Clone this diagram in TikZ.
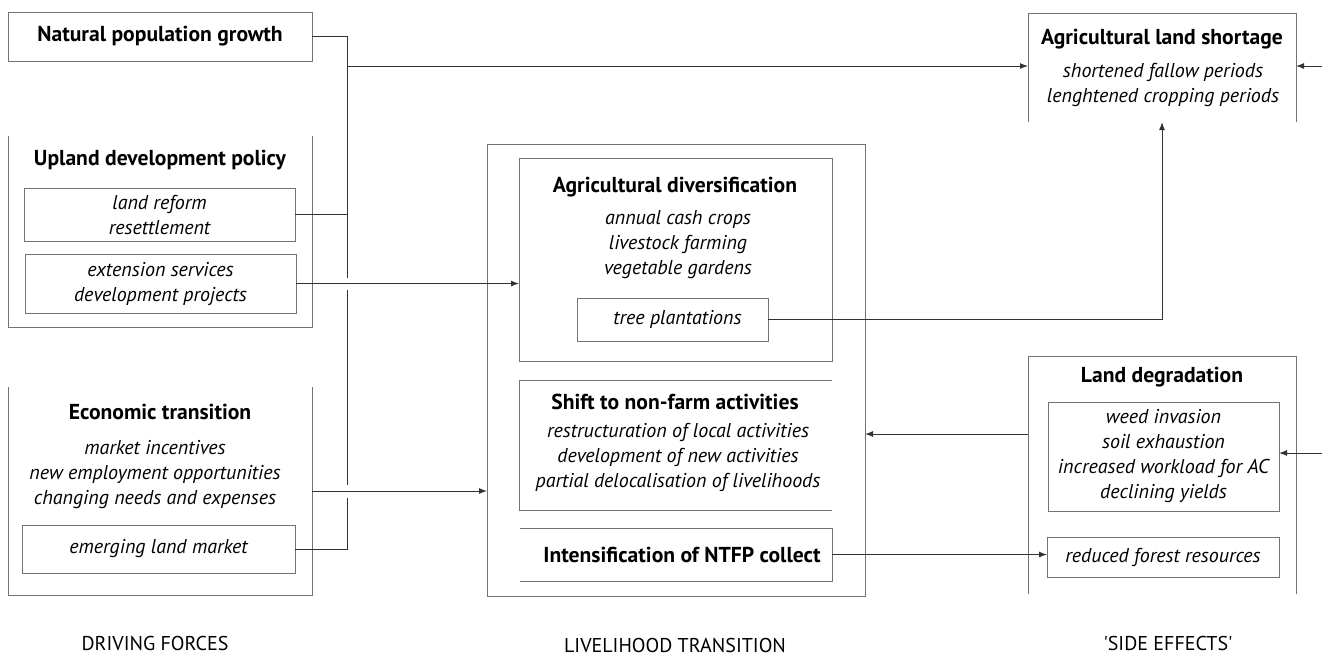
\documentclass[tikz,border=0pt]{standalone}
\usepackage{fontspec}
\setmainfont{PT Sans}
\usetikzlibrary{arrows.meta}

\begin{document}
\begin{tikzpicture}[x=0.5pt,y=-0.5pt,
	box/.style={draw=black!55,line width=0.5pt,inner sep=0,outer sep=0},
	openbox/.style={inner sep=0,outer sep=0},
	edge/.style={draw=black!55,line width=0.5pt},
	title/.style={font=\bfseries\fontsize{10.8}{12.5}\selectfont,inner sep=0},
	items/.style={font=\itshape\fontsize{10}{12.5}\selectfont,align=center,inner sep=0},
	footer/.style={font=\fontsize{10}{12.5}\selectfont,inner sep=0},
	link/.style={draw=black!80,line width=0.5pt},
	arrow/.style={link,-{Latex[length=4pt,width=3pt]}}]
	\useasboundingbox (0,0) rectangle (1322,655);
	% driving forces
	\node[box,title,minimum width=152pt,minimum height=24.5pt] (pop) at (160,36.5) {Natural population growth};
	\node[openbox,minimum width=152pt,minimum height=95.5pt] (upland) at (160,231.5) {};
	\draw[edge] (upland.north west) -- (upland.south west) -- (upland.south east) -- (upland.north east);
	\node[title] (upland-t) at (160,160) {Upland development policy};
	\node[box,items,minimum width=135.5pt,minimum height=26.5pt] (reform) at (159.5,214.5) {land reform\\resettlement};
	\node[box,items,minimum width=135.5pt,minimum height=29.5pt] (extens) at (160.5,283.5) {extension services\\development projects};
	\node[openbox,minimum width=152pt,minimum height=104pt] (econ) at (160,491) {};
	\draw[edge] (econ.north west) -- (econ.south west) -- (econ.south east) -- (econ.north east);
	\node[title] (econ-t) at (160,412) {Economic transition};
	\node[items] (econ-i) at (155,475) {market incentives\\new employment opportunities\\changing needs and expenses};
	\node[box,items,minimum width=136.5pt,minimum height=24pt] (landmkt) at (158.5,549) {emerging land market};
	% livelihood transition
	\node[box,minimum width=189pt,minimum height=226pt] (liveli) at (676,370) {};
	\node[box,minimum width=156.5pt,minimum height=101.5pt] (agdiv) at (675.5,259.5) {};
	\node[title] (agdiv-t) at (675,187) {Agricultural diversification};
	\node[items] (agdiv-i) at (678,245) {annual cash crops\\livestock farming\\vegetable gardens};
	\node[box,items,minimum width=95.5pt,minimum height=21.5pt] (trees) at (672.5,319.5) {\hspace{5pt}tree plantations};
	\node[openbox,minimum width=156.5pt,minimum height=65pt] (nonfarm) at (675.5,445) {};
	\draw[edge] (nonfarm.north east) -- (nonfarm.north west) -- (nonfarm.south west) -- (nonfarm.south east);
	\node[title] (nonfarm-t) at (675,402) {Shift to non-farm activities};
	\node[items] (nonfarm-i) at (678,457) {restructuration of local activities\\development of new activities\\partial delocalisation of livelihoods};
	\node[openbox,title,minimum width=156pt,minimum height=26.5pt] (ntfp) at (676,554.5) {\hspace{6pt}Intensification of NTFP collect};
	\draw[edge] (ntfp.north west) -- (ntfp.north east) -- (ntfp.south east) -- (ntfp.south west);
	% side effects
	\node[openbox,minimum width=134pt,minimum height=54.5pt] (shortage) at (1162,67.5) {};
	\draw[edge] (shortage.south west) -- (shortage.north west) -- (shortage.north east) -- (shortage.south east);
	\node[title] (shortage-t) at (1162,39) {Agricultural land shortage};
	\node[items] (shortage-i) at (1163,84.5) {shortened fallow periods\\lenghtened cropping periods};
	\node[openbox,minimum width=134pt,minimum height=119pt] (degrad) at (1162,475) {};
	\draw[edge] (degrad.south west) -- (degrad.north west) -- (degrad.north east) -- (degrad.south east);
	\node[title] (degrad-t) at (1162,377) {Land degradation};
	\node[box,items,minimum width=115.5pt,minimum height=54.5pt] (weed) at (1163.5,456.5) {weed invasion\\soil exhaustion\\increased workload for AC\\declining yields};
	\node[box,items,minimum width=116pt,minimum height=20pt] (forest) at (1163,557) {reduced forest resources};
	% column labels
	\node[footer] (drive) at (155,643) {DRIVING FORCES};
	\node[footer] (trans) at (675,645) {LIVELIHOOD TRANSITION};
	\node[footer] (side) at (1168,643) {\textquotesingle SIDE EFFECTS\textquotesingle};
	% connectors
	\coordinate (busa) at (347,278);
	\coordinate (busb) at (347,290);
	\coordinate (busc) at (347,485);
	\coordinate (busd) at (347,498);
	\coordinate (tap) at (347,66);
	\coordinate (dgout) at (1028,434);
	\coordinate (inA) at (1322,66);
	\coordinate (inB) at (1322,453);
	\draw[link] (pop.east) -| (busa);
	\draw[link] (busb) -- (busc);
	\draw[link] (busd) |- (landmkt.east);
	\draw[link] (reform.east) -- (reform.east -| busa);
	\draw[arrow] (tap) -- (tap -| shortage.west);
	\draw[arrow] (extens.east) -- (extens.east -| agdiv.west);
	\draw[arrow] (econ.east) -- (econ.east -| liveli.west);
	\draw[arrow] (trees.east) -| (shortage.south);
	\draw[arrow] (dgout) -- (dgout -| liveli.east);
	\draw[arrow] (ntfp.east) -- (ntfp.east -| forest.west);
	\draw[arrow] (inA) -- (inA -| shortage.east);
	\draw[arrow] (inB) -- (inB -| weed.east);
\end{tikzpicture}
\end{document}
